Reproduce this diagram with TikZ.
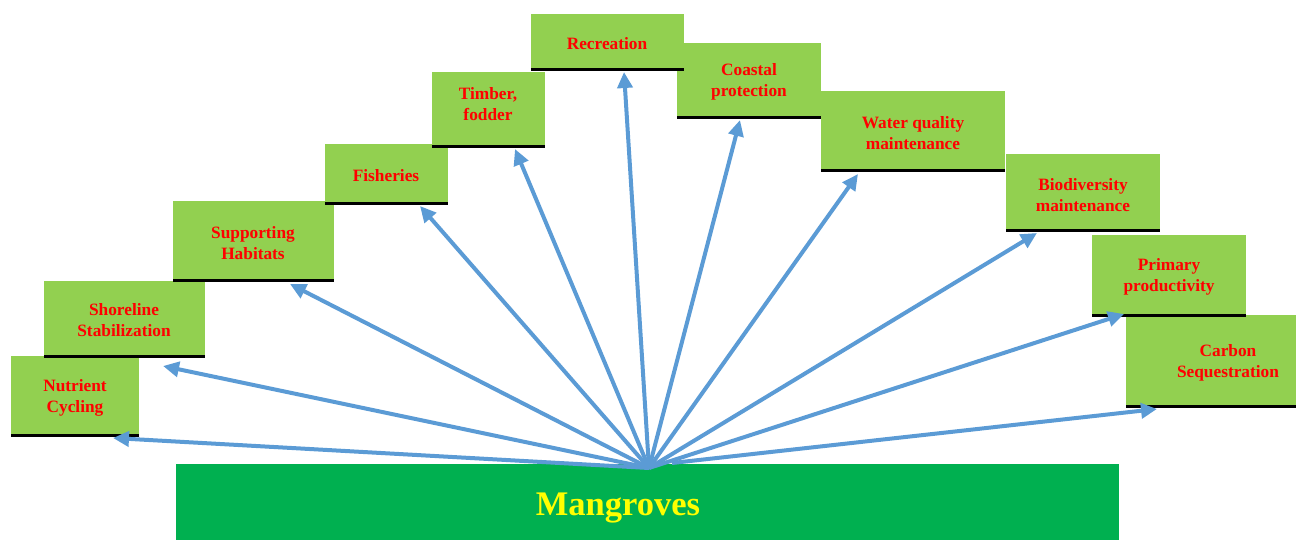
\documentclass[tikz,border=0pt]{standalone}
\usepackage{fontspec}
\setmainfont{Liberation Serif}[BoldFont={Liberation Serif Bold}]
\usetikzlibrary{arrows.meta}
\definecolor{boxgreen}{HTML}{92D050}
\definecolor{mangreen}{HTML}{00B050}
\definecolor{arrowblue}{HTML}{5B9BD5}
\definecolor{txtred}{HTML}{FF0000}
\definecolor{txtyellow}{HTML}{FFFF00}
\begin{document}
\begin{tikzpicture}[x=1pt,y=-1pt,
  boxfill/.style={fill=boxgreen,draw=none},
  boxline/.style={line width=3pt,black},
  lbl/.style={text=txtred,font=\fontsize{17.3}{20.5}\selectfont\bfseries,align=center,inner sep=0pt,yshift=-2pt},
  conn/.style={arrowblue,line width=4pt,-{Triangle[length=16pt,width=15pt]}}]
\useasboundingbox (0,0) rectangle (1296,540);
% boxes
\path[boxfill] (11,356) rectangle (139,436);
\path[boxfill] (44,281) rectangle (205,357);
\path[boxfill] (173,201) rectangle (334,281);
\path[boxfill] (325,144) rectangle (448,205);
\path[boxfill] (432,72) rectangle (545,148);
\path[boxfill] (677,43) rectangle (821,119);
\path[boxfill] (531,14) rectangle (684,71);
\path[boxfill] (821,91) rectangle (1005,172);
\path[boxfill] (1006,154) rectangle (1160,232);
\path[boxfill] (1092,235) rectangle (1246,316);
\path[boxfill] (1126,315) rectangle (1296,407);
% bottom lines
\draw[boxline] (11,435) -- (139,435);
\draw[boxline] (44,356) -- (205,356);
\draw[boxline] (173,280) -- (334,280);
\draw[boxline] (325,204) -- (448,204);
\draw[boxline] (432,147) -- (545,147);
\draw[boxline] (677,118) -- (821,118);
\draw[boxline] (531,70) -- (684,70);
\draw[boxline] (821,171) -- (1005,171);
\draw[boxline] (1006,231) -- (1160,231);
\draw[boxline] (1092,315) -- (1246,315);
\draw[boxline] (1126,406) -- (1296,406);
% labels
\node[lbl] (nc) at (75,396) {Nutrient\\Cycling};
\node[lbl] (ss) at (124,318) {Shoreline\\Stabilization};
\node[lbl] (sh) at (253,241) {Supporting\\Habitats};
\node[lbl] (fi) at (386,174) {Fisheries};
\node[lbl] (tf) at (488,102) {Timber,\\fodder};
\node[lbl] (re) at (607,42) {Recreation};
\node[lbl] (cp) at (749,80) {Coastal\\protection};
\node[lbl] (wq) at (913,131) {Water quality\\maintenance};
\node[lbl] (bm) at (1083,193) {Biodiversity\\maintenance};
\node[lbl] (pp) at (1169,275) {Primary\\productivity};
\node[lbl] (cs) at (1228,361) {Carbon\\Sequestration};
% mangroves
\path[fill=mangreen] (176,464) rectangle (1119,540);
\node[text=txtyellow,font=\fontsize{34.5}{38}\selectfont\bfseries,inner sep=0pt] (mg) at (618,508) {Mangroves};
% arrow ends
\coordinate (o) at (649,468);
\coordinate (o2) at (672,463);
\coordinate (tnc) at (113,438);
\coordinate (tss) at (163,366);
\coordinate (tsh) at (290,284);
\coordinate (tfi) at (420,206);
\coordinate (ttf) at (515,149);
\coordinate (tre) at (624,72);
\coordinate (tcp) at (740,120);
\coordinate (twq) at (858,174);
\coordinate (tbm) at (1037,233);
\coordinate (tpp) at (1124,314);
\coordinate (tcs) at (1157,409);
\draw[conn] (o) -- (tnc);
\draw[conn] (o) -- (tss);
\draw[conn] (o) -- (tsh);
\draw[conn] (o) -- (tfi);
\draw[conn] (o) -- (ttf);
\draw[conn] (o) -- (tre);
\draw[conn] (o) -- (tcp);
\draw[conn] (o) -- (twq);
\draw[conn] (o) -- (tbm);
\draw[conn] (o) -- (tpp);
\draw[conn] (o2) -- (tcs);
\end{tikzpicture}
\end{document}
